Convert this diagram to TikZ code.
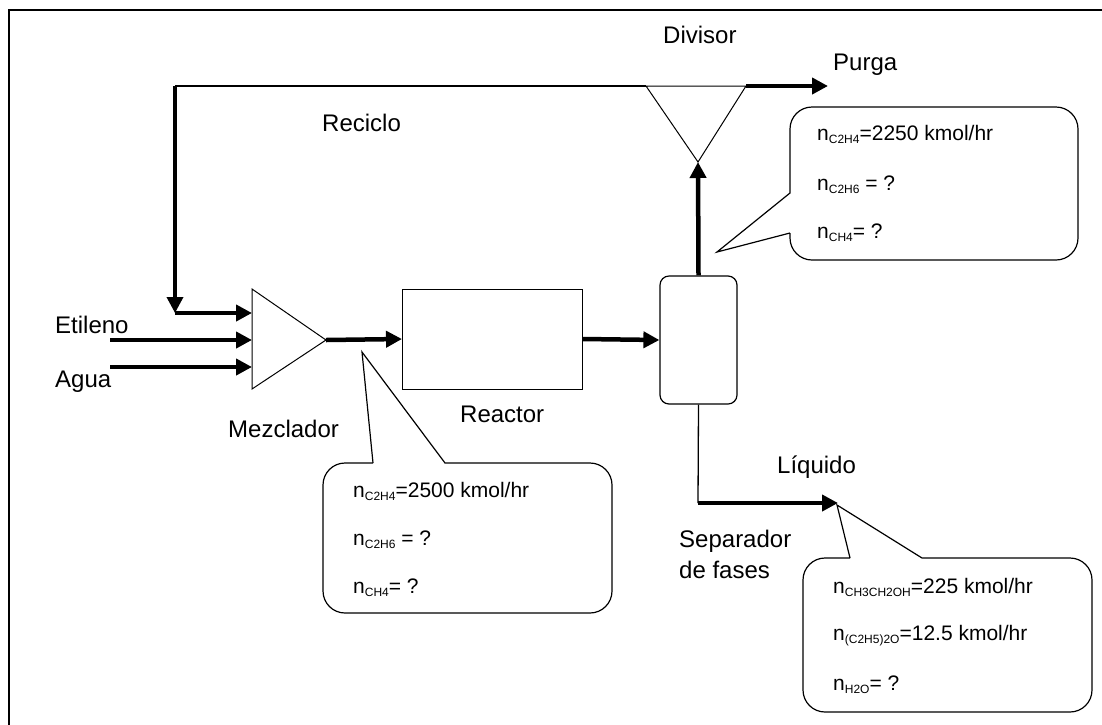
\documentclass[tikz,border=0pt]{standalone}
\usepackage{fontspec}
\setmainfont{Liberation Sans}
\usetikzlibrary{arrows.meta}
\newcommand{\sbs}[1]{\raisebox{-3pt}{\fontsize{12}{12}\selectfont #1}}
\begin{document}
\begin{tikzpicture}[x=1pt,y=-1pt,
  lbl/.style={anchor=base west, inner sep=0, font=\fontsize{24}{28}\selectfont},
  val/.style={anchor=base west, inner sep=0, font=\fontsize{21}{24}\selectfont},
  flow/.style={line width=4.5pt, -{Triangle[length=16pt,width=16pt]}},
  thinline/.style={line width=1.3pt},
  unit/.style={draw, line width=1pt},
  callout/.style={draw, line width=1.2pt}]
\useasboundingbox (0,0) rectangle (1102,724);
% frame
\draw[line width=2.5pt] (9,740) -- (9,10) -- (1120,10);
% units
\coordinate (mxa) at (252,289);
\coordinate (mxb) at (252,389);
\coordinate (mxt) at (326,340);
\draw[unit] (mxa) -- (mxt) -- (mxb) -- cycle;
\node[draw, line width=1pt, minimum width=180, minimum height=100, inner sep=0] (reac) at (492.5,339) {};
\node[draw, rounded corners=9pt, line width=1.2pt, minimum width=77, minimum height=128, inner sep=0] (sep) at (698.5,340) {};
\coordinate (dvl) at (646,86);
\coordinate (dvr) at (746,86);
\coordinate (dvt) at (698,162);
\draw[unit] (dvl) -- (dvr) -- (dvt) -- cycle;
% connectors
\coordinate (et) at (110,340);
\coordinate (mxe) at (252,340);
\draw[flow] (et) -- (mxe);
\coordinate (ag) at (110,367);
\coordinate (mxg) at (252,367);
\draw[flow] (ag) -- (mxg);
\coordinate (rc1) at (175,86);
\coordinate (rc2) at (175,313);
\coordinate (mxr) at (252,313);
\draw[thinline] (dvl) -- (rc1);
\draw[line width=3.5pt, -{Triangle[length=16pt,width=16pt]}] (rc1) -- (rc2);
\draw[flow] (rc2) -- (mxr);
\draw[flow] (mxt) -- (reac.west);
\draw[flow] (reac.east) -- (sep.west);
\draw[flow] (sep.north) -- (dvt);
\coordinate (pu) at (828,86);
\draw[flow] (dvr) -- (pu);
\coordinate (lq1) at (698,503);
\coordinate (lq2) at (838,503);
\draw[thinline] (sep.south) -- (lq1);
\draw[flow] (lq1) -- (lq2);
% callouts
\draw[callout] (373,463) -- (362,352) -- (445,463) [rounded corners=22pt] -- (612,463) -- (612,613) -- (323,613) -- (323,463) -- (373,463);
\draw[callout] (790,233) -- (717,252) -- (790,193) [rounded corners=22pt] -- (790,107) -- (1078,107) -- (1078,260) -- (790,260) -- (790,233);
\draw[callout] (850,558) -- (837,505) -- (922,558) [rounded corners=22pt] -- (1092,558) -- (1092,712) -- (803,712) -- (803,558) -- (850,558);
% labels
\node[lbl] (tdiv) at (663,43) {Divisor};
\node[lbl] (tpur) at (833,70) {Purga};
\node[lbl] (trec) at (322,131) {Reciclo};
\node[lbl] (tet) at (55,333) {Etileno};
\node[lbl] (tag) at (55,387) {Agua};
\node[lbl] (tmez) at (228,437) {Mezclador};
\node[lbl] (trea) at (460,422) {Reactor};
\node[lbl] (tliq) at (777,473) {Líquido};
\node[lbl] (tsep1) at (679,547) {Separador};
\node[lbl] (tsep2) at (679,578) {de fases};
% values
\node[val] (m1) at (353,497) {n\sbs{C2H4}=2500 kmol/hr};
\node[val] (m2) at (353,545) {n\sbs{C2H6} = ?};
\node[val] (m3) at (353,593) {n\sbs{CH4}= ?};
\node[val] (d1) at (817,140) {n\sbs{C2H4}=2250 kmol/hr};
\node[val] (d2) at (817,190) {n\sbs{C2H6} = ?};
\node[val] (d3) at (817,238) {n\sbs{CH4}= ?};
\node[val] (l1) at (833,593) {n\sbs{CH3CH2OH}=225 kmol/hr};
\node[val] (l2) at (833,640) {n\sbs{(C2H5)2O}=12.5 kmol/hr};
\node[val] (l3) at (833,690) {n\sbs{H2O}= ?};
\end{tikzpicture}
\end{document}
